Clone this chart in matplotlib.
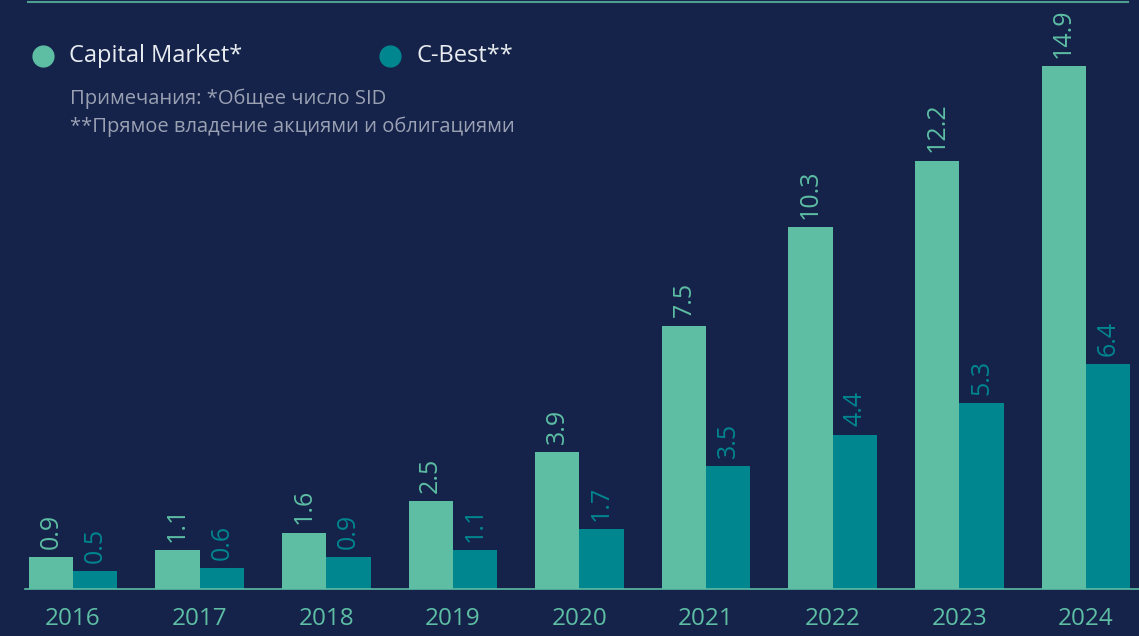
import matplotlib.pyplot as plt
from matplotlib.lines import Line2D
import numpy as np

years = ['2016', '2017', '2018', '2019', '2020', '2021', '2022', '2023', '2024']
capital_market = [0.9, 1.1, 1.6, 2.5, 3.9, 7.5, 10.3, 12.2, 14.9]
c_best = [0.5, 0.6, 0.9, 1.1, 1.7, 3.5, 4.4, 5.3, 6.4]

BG = '#15224a'
LIGHT = '#5dbea4'
DARK = '#00868f'

plt.rcParams['font.family'] = ['Open Sans', 'DejaVu Sans']


def main():
    fig = plt.figure(figsize=(11.39, 6.36), dpi=100, facecolor=BG)
    ax = fig.add_axes([0, 0, 1, 1])
    ax.set_facecolor(BG)

    x = np.arange(len(years))
    w = 0.35
    ax.bar(x - w / 2, capital_market, w, color=LIGHT, zorder=2)
    ax.bar(x + w / 2, c_best, w, color=DARK, zorder=2)

    # value labels, rotated
    for xi, v in zip(x, capital_market):
        ax.annotate(f'{v}', (xi - w / 2, v), xytext=(0, 6), textcoords='offset points',
                    rotation=90, ha='center', va='bottom', color=LIGHT, fontsize=18)
    for xi, v in zip(x, c_best):
        ax.annotate(f'{v}', (xi + w / 2, v), xytext=(0, 6), textcoords='offset points',
                    rotation=90, ha='center', va='bottom', color=DARK, fontsize=18)

    # year labels
    for xi, y in zip(x, years):
        ax.text(xi, -0.85, y, ha='center', va='center', color=LIGHT, fontsize=17.5)

    ax.set_xlim(-0.577, 8.42)
    ax.set_ylim(-1.34, 16.78)
    ax.axis('off')

    # baseline and top rule
    ax.add_line(Line2D([25 / 1139, 1.0], [47 / 636, 47 / 636], transform=fig.transFigure,
                       color=LIGHT, lw=1.2))
    ax.add_line(Line2D([28 / 1139, 1128 / 1139], [1 - 1.5 / 636, 1 - 1.5 / 636],
                       transform=fig.transFigure, color=LIGHT, lw=1.5, alpha=0.8))

    # legend
    for cx, col, label in [(43, LIGHT, 'Capital Market*'), (390, DARK, 'C-Best**')]:
        fig.add_artist(Line2D([cx / 1139], [1 - 56 / 636], transform=fig.transFigure,
                              marker='o', markersize=15, color=col, linestyle='none'))
        fig.text((cx + 26) / 1139, 1 - 56 / 636, label, color='#e8ecf0', fontsize=17,
                 ha='left', va='center')
    fig.text(70 / 1139, 1 - 99 / 636, 'Примечания: *Общее число SID', color='#9aa1b3',
             fontsize=14.5, ha='left', va='center')
    fig.text(70 / 1139, 1 - 127 / 636, '**Прямое владение акциями и облигациями', color='#9aa1b3',
             fontsize=14.5, ha='left', va='center')

    fig.savefig('out.png', dpi=100, facecolor=BG)


if __name__ == '__main__':
    main()
